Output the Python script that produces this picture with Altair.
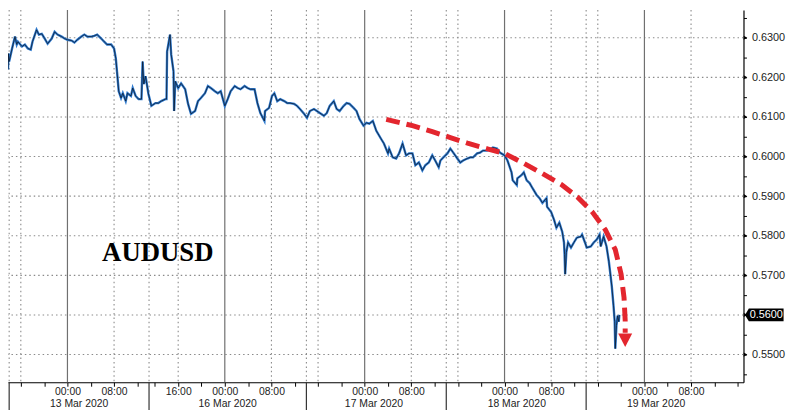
import altair as alt
import pandas as pd

# ---- price series (x = trading hours since 13 Mar 2020 00:00, weekend removed) ----
t_hours = [-10.2, -10.1, -10.0, -9.5, -9.0, -8.7, -8.5, -7.8, -7.3, -6.8, -6.3, -6.0, -5.3, -4.9, -4.4,
           -3.9, -3.4, -2.7, -2.2, -1.7, -1.0, -0.5, 0.0, 0.7, 1.2, 1.7, 2.4, 2.9, 3.4, 4.1, 4.6, 5.1,
           5.8, 6.3, 6.8, 7.5, 8.0, 8.3, 8.5, 8.8, 9.2, 9.5, 10.0, 10.3, 10.9, 11.2, 11.7, 12.2, 12.7,
           12.9, 13.1, 13.4, 13.9, 14.4, 15.1, 15.6, 16.1, 16.8, 17.0, 17.1, 17.6, 17.8, 18.2, 18.3,
           18.5, 19.0, 19.5, 20.2, 20.7, 21.2, 21.9, 22.4, 22.9, 23.6, 24.1, 24.6, 25.3, 25.8, 26.3,
           27.0, 27.5, 28.0, 28.7, 29.2, 29.7, 30.4, 30.9, 31.4, 32.1, 32.6, 33.1, 33.8, 33.9, 34.6,
           35.1, 35.5, 36.0, 36.5, 37.2, 37.7, 38.2, 38.9, 39.4, 39.9, 40.6, 41.1, 41.6, 42.3, 42.8,
           43.3, 44.0, 44.5, 45.0, 45.7, 46.2, 46.7, 47.4, 47.9, 48.4, 49.1, 49.6, 50.1, 50.8, 51.3,
           51.8, 52.4, 53.0, 53.8, 54.3, 55.0, 55.2, 55.8, 56.4, 56.9, 57.5, 58.1, 58.6, 59.2, 59.7,
           60.3, 60.9, 61.4, 62.0, 62.6, 63.1, 63.7, 64.0, 64.5, 65.2, 65.7, 66.2, 66.9, 67.4, 67.9,
           68.6, 69.1, 69.6, 70.3, 70.8, 71.3, 72.0, 72.5, 73.0, 73.7, 74.2, 75.0, 75.5, 76.2, 76.4,
           77.1, 77.2, 77.9, 78.3, 78.8, 79.3, 79.8, 80.5, 81.0, 81.5, 82.2, 82.3, 83.0, 83.5, 83.9,
           84.4, 84.9, 85.2, 85.3, 85.4, 85.6, 85.9, 86.4, 86.9, 87.4, 88.1, 88.3, 88.8, 89.1, 89.8,
           90.3, 90.8, 91.3, 91.5, 92.0, 92.5, 92.9, 93.2, 93.4, 93.7, 93.9, 94.0, 94.2, 94.4, 94.6,
           94.7]
audusd = [0.6220, 0.6260, 0.6240, 0.6273, 0.6303, 0.6283, 0.6290, 0.6278, 0.6283, 0.6273, 0.6270,
          0.6290, 0.6320, 0.6308, 0.6310, 0.6298, 0.6285, 0.6298, 0.6315, 0.6308, 0.6303, 0.6298,
          0.6295, 0.6293, 0.6288, 0.6295, 0.6303, 0.6308, 0.6303, 0.6303, 0.6305, 0.6308, 0.6298,
          0.6290, 0.6283, 0.6283, 0.6273, 0.6248, 0.6215, 0.6165, 0.6148, 0.6160, 0.6140, 0.6160,
          0.6153, 0.6173, 0.6153, 0.6145, 0.6145, 0.6240, 0.6183, 0.6203, 0.6158, 0.6128, 0.6135,
          0.6135, 0.6140, 0.6145, 0.6145, 0.6265, 0.6308, 0.6258, 0.6215, 0.6115, 0.6190, 0.6173,
          0.6185, 0.6170, 0.6133, 0.6108, 0.6115, 0.6140, 0.6148, 0.6160, 0.6178, 0.6173, 0.6165,
          0.6160, 0.6165, 0.6128, 0.6145, 0.6165, 0.6178, 0.6173, 0.6170, 0.6178, 0.6173, 0.6170,
          0.6170, 0.6135, 0.6110, 0.6090, 0.6115, 0.6123, 0.6153, 0.6160, 0.6140, 0.6145, 0.6140,
          0.6135, 0.6135, 0.6133, 0.6128, 0.6120, 0.6108, 0.6098, 0.6115, 0.6120, 0.6115, 0.6110,
          0.6103, 0.6110, 0.6128, 0.6140, 0.6120, 0.6115, 0.6128, 0.6135, 0.6133, 0.6123, 0.6115,
          0.6095, 0.6078, 0.6085, 0.6083, 0.6090, 0.6065, 0.6045, 0.6033, 0.6008, 0.6020, 0.5998,
          0.5995, 0.6008, 0.6033, 0.6003, 0.6008, 0.6008, 0.5978, 0.5985, 0.5965, 0.5978, 0.5985,
          0.6003, 0.5990, 0.5973, 0.5990, 0.5998, 0.6008, 0.6020, 0.6010, 0.5995, 0.5985, 0.5990,
          0.5995, 0.5998, 0.5998, 0.6008, 0.6010, 0.6015, 0.6015, 0.6018, 0.6023, 0.6020, 0.6010,
          0.6003, 0.5990, 0.5960, 0.5940, 0.5928, 0.5945, 0.5953, 0.5960, 0.5940, 0.5933, 0.5920,
          0.5903, 0.5895, 0.5883, 0.5895, 0.5873, 0.5860, 0.5840, 0.5820, 0.5833, 0.5810, 0.5783,
          0.5753, 0.5703, 0.5758, 0.5783, 0.5770, 0.5783, 0.5795, 0.5798, 0.5803, 0.5783, 0.5770,
          0.5773, 0.5783, 0.5790, 0.5803, 0.5773, 0.5798, 0.5773, 0.5735, 0.5698, 0.5673, 0.5623,
          0.5583, 0.5515, 0.5573, 0.5598, 0.5583, 0.5600]

# ---- red dashed trend arrow ----
arrow_t = [54.7, 59.2, 62.6, 65.7, 68.8, 72.2, 75.0, 78.4, 81.5, 84.7, 87.5, 90.0, 92.3, 94.0,
           95.0, 95.5, 95.7, 95.7]
arrow_p = [0.6094, 0.6078, 0.6063, 0.6048, 0.6033, 0.6019, 0.6008, 0.5982, 0.5957, 0.5930,
           0.5898, 0.5861, 0.5815, 0.5765, 0.5703, 0.5644, 0.5586, 0.5555]
arrow_head_t = [95.7]
arrow_head_p = [0.5537]

# ---- axes / annotations ----
x_ticks = [-8, -4, 0, 4, 8, 12, 15, 19, 23, 27, 31, 35, 39, 43, 47, 51, 55, 59, 63, 67, 71, 75,
           79, 83, 87, 91, 95, 99, 103, 107, 111, 115]
time_label_pos = [0, 8, 19, 27, 35, 51, 59, 75, 83, 99, 107]
time_label_txt = ["00:00", "08:00", "16:00", "00:00", "08:00", "00:00", "08:00", "00:00",
                  "08:00", "00:00", "08:00"]
day_lines = [0, 27, 51, 75, 99]
dotted_lines = [-10, -8, 8, 14, 19, 35, 41, 43, 59, 65, 67, 83, 89, 91, 107]
separators = [-10, 14, 41, 65, 89]
date_pos = [2.0, 27.5, 52.6, 77.1, 101.0]
date_txt = ["13 Mar 2020", "16 Mar 2020", "17 Mar 2020", "18 Mar 2020", "19 Mar 2020"]
y_ticks = [0.545, 0.550, 0.555, 0.560, 0.565, 0.570, 0.575, 0.580, 0.585, 0.590, 0.595,
           0.600, 0.605, 0.610, 0.615, 0.620, 0.625, 0.630, 0.635]
y_grid = [0.55, 0.56, 0.57, 0.58, 0.59, 0.60, 0.61, 0.62, 0.63]
last_price = [0.5600]
last_label = ["0.5600"]
title_t = [15.5]
title_p = [0.5735]
title_txt = ["AUDUSD"]

W, H = 743, 376
FONT = "Liberation Sans"
TXT = "#222"

xs = alt.Scale(domain=[-10.2, 116], nice=False, zero=False)
ys = alt.Scale(domain=[0.543, 0.637], nice=False, zero=False)

price_df = pd.DataFrame({"t": t_hours, "p": audusd, "i": range(len(t_hours))})
arrow_df = pd.DataFrame({"t": arrow_t, "p": arrow_p, "i": range(len(arrow_t))})

pos_js = "[" + ",".join(str(v) for v in time_label_pos) + "]"
txt_js = "[" + ",".join("'" + s + "'" for s in time_label_txt) + "]"
x_label_expr = f"indexof({pos_js}, datum.value) >= 0 ? {txt_js}[indexof({pos_js}, datum.value)] : ''"

x_axis = alt.Axis(values=x_ticks, labelExpr=x_label_expr, grid=False, title=None,
                  domainColor="#000", domainWidth=1.2, tickColor="#000", tickSize=4,
                  labelFont=FONT, labelFontSize=10.5, labelColor=TXT, labelPadding=0,
                  labelOverlap=False, labelFlush=False, labelBaseline="top")
y_axis = alt.Axis(values=y_ticks, orient="right", grid=False, title=None,
                  labelExpr="(round(datum.value*1000) % 10 == 0 && round(datum.value*1000) != 560) ? format(datum.value, '.4f') : ''",
                  domainColor="#000", domainWidth=1.2, tickColor="#000", tickSize=3,
                  labelFont=FONT, labelFontSize=11, labelColor=TXT, labelPadding=5,
                  labelOverlap=False, labelFlush=False)


def X(field="t"):
    return alt.X(f"{field}:Q", scale=xs, axis=x_axis)


def Y(field="p"):
    return alt.Y(f"{field}:Q", scale=ys, axis=y_axis)


hgrid = alt.Chart(pd.DataFrame({"p": y_grid})).mark_rule(
    color="#8a8a8a", strokeDash=[1.5, 3], strokeWidth=1.1
).encode(y=Y())

vdot = alt.Chart(pd.DataFrame({"t": dotted_lines})).mark_rule(
    color="#8a8a8a", strokeDash=[1.5, 3], strokeWidth=1.1
).encode(x=X())

vday = alt.Chart(pd.DataFrame({"t": day_lines})).mark_rule(
    color="#707070", strokeWidth=1.2
).encode(x=X())

seps = alt.Chart(pd.DataFrame({"t": separators})).mark_rule(
    color="#333", strokeWidth=1.2
).encode(x=X(), y=alt.value(H), y2=alt.value(H + 28))

line_blue = alt.Chart(price_df).mark_line(color="#2f7bd0", strokeWidth=2.4).encode(
    x=X(), y=Y(), order="i:Q",
)
line_dark = alt.Chart(price_df).mark_line(color="#0d1b2e", strokeWidth=1.0, opacity=0.8).encode(
    x=X(), y=Y(), order="i:Q",
)

arrow_line = alt.Chart(arrow_df).mark_line(
    color="#e3262e", strokeWidth=5, strokeDash=[14, 7]
).encode(x=X(), y=Y(), order="i:Q")

arrow_head = alt.Chart(pd.DataFrame({"t": arrow_head_t, "p": arrow_head_p})).mark_point(
    shape="M-1,-0.9L1,-0.9L0,1Z", filled=True, color="#e3262e", opacity=1, size=200
).encode(x=X(), y=Y())

major_marks = alt.Chart(pd.DataFrame({"p": y_grid})).mark_point(
    shape="triangle-right", filled=True, color="#000", opacity=1, size=18
).encode(x=alt.value(W + 2), y=Y())

dates = alt.Chart(pd.DataFrame({"t": date_pos, "s": date_txt})).mark_text(
    font=FONT, fontSize=10.5, color=TXT, baseline="middle", align="center"
).encode(x=X(), y=alt.value(H + 22), text="s:N")

title = alt.Chart(pd.DataFrame({"t": title_t, "p": title_p, "s": title_txt})).mark_text(
    font="Liberation Serif", fontSize=27, fontWeight="bold", color="#000",
    baseline="alphabetic", align="center"
).encode(x=X(), y=Y(), text="s:N")

tag = alt.Chart(pd.DataFrame({"p": last_price})).mark_point(
    shape="M-1,0L-0.8,-0.333L1,-0.333L1,0.333L-0.8,0.333Z", filled=True, color="#000",
    opacity=1, size=1521
).encode(x=alt.value(W + 21), y=Y())

tag_text = alt.Chart(pd.DataFrame({"p": last_price, "s": last_label})).mark_text(
    font=FONT, fontSize=11, color="#fff", baseline="middle", align="center"
).encode(x=alt.value(W + 23), y=Y(), text="s:N")

chart = alt.layer(
    hgrid, vdot, vday, line_blue, line_dark, arrow_line, arrow_head, seps, dates, title,
    major_marks, tag, tag_text
).properties(
    width=W, height=H,
    autosize=alt.AutoSizeParams(type="none"),
    padding={"left": 0, "top": 0, "right": 49, "bottom": 31},
    background="#ffffff",
).configure_view(stroke=None)

chart.save("out.html", embed_options={"renderer": "svg", "actions": False})
